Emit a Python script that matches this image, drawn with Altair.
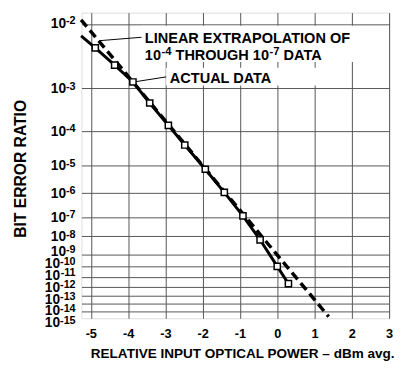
import altair as alt
import pandas as pd

# ---------------- data ----------------
# "actual data" curve (first entry = continuation of the curve to the left plot edge, no marker)
ACTUAL_DBM = [-5.26, -4.88, -4.36, -3.87, -3.42, -2.92, -2.48, -1.93, -1.42, -0.92, -0.46, 0.00, 0.30]
ACTUAL_BER = [6.6e-3, 4.3e-3, 2.3e-3, 1.25e-3, 4.5e-4, 1.35e-4, 3.9e-5, 7.2e-6, 1.05e-6, 1.1e-7,
              6.2e-9, 9.3e-11, 2.0e-12]
ACTUAL_MARKER = [False] + [True] * 12

# linear extrapolation of the 1e-4 .. 1e-7 data (end points at the plot frame)
EXTRAP_DBM = [-5.26, 1.38]
EXTRAP_BER = [1.2e-2, 2.5e-16]

X_TICKS = [-5, -4, -3, -2, -1, 0, 1, 2, 3]
Y_EXPONENTS = list(range(2, 16))          # 10^-2 ... 10^-15
X_TITLE = "RELATIVE INPUT OPTICAL POWER – dBm avg."
Y_TITLE = "BIT ERROR RATIO"

# annotation texts (line 2 pieces: base, superscript, base, superscript, base)
ANN_LINE1 = "LINEAR EXTRAPOLATION OF"
ANN_LINE2 = ["10", "-4", "THROUGH 10", "-7", "DATA"]
ANN_LINE3 = "ACTUAL DATA"

# annotation anchors / boxes / leaders (in data units: dBm, BER)
ANN_ANCHOR_DBM = [-3.55, -3.55, -2.88]
ANN_ANCHOR_BER = [5.13e-3, 2.75e-3, 1.22e-3]
BOX_DBM1 = [-3.64, -2.98]
BOX_DBM2 = [2.05, 1.5]
BOX_BER1 = [9.55e-3, 2.09e-3]
BOX_BER2 = [2.57e-3, 1.10e-3]
LEAD_DBM1 = [-4.77, -3.81]
LEAD_DBM2 = [-3.64, -2.98]
LEAD_BER1 = [5.57e-3, 1.26e-3]
LEAD_BER2 = [6.3e-3, 1.5e-3]

# ---------------- layout / scale geometry ----------------
FONT = "Liberation Sans"
W, H = 314, 312
PAD = {"left": 75, "top": 1, "right": 6, "bottom": 44}

REF_TOP, REF_BOTTOM = 6.0, 321.7
K = H / (REF_BOTTOM - REF_TOP)
GRID_E = [1.8] + list(range(2, 16)) + [15.8]
GRID_PX = [6, 18.3, 84, 128.3, 163.7, 192.3, 217, 236.7, 255.7, 267.7, 279, 289, 298.3, 307, 315, 321.7]
Y_RANGE = [round((p - REF_TOP) * K, 2) for p in GRID_PX]

LABEL_N = [2, 3, 4, 5, 6, 7, 8, 9, 15]
LABEL_PX = [16.7, 84, 128.3, 163.7, 192.3, 217, 237, 252.5, 326]
LABEL_RANGE = [round((p - REF_TOP) * K, 2) for p in LABEL_PX]

AW = {' ': 278, '-': 333, 'A': 722, 'B': 722, 'C': 722, 'D': 722, 'E': 667, 'F': 611, 'G': 778,
      'H': 722, 'I': 278, 'L': 611, 'N': 722, 'O': 778, 'P': 667, 'R': 722, 'T': 611, 'U': 722,
      'X': 667, 'W': 944}
for d in "0123456789":
    AW[d] = 556


def tw(s, size):
    return sum(AW.get(c, 600) for c in s) * size / 1000.0


ANN_SIZE, ANN_SUP = 14.8, 11.5
LAB_SIZE, LAB_SUP = 14, 11

xs = alt.Scale(domain=[-5.25, 3], nice=False, zero=False)
ys = alt.Scale(domain=GRID_E, range=Y_RANGE, nice=False, zero=False)

x_axis = alt.Axis(values=X_TICKS, grid=True, gridColor="#555", gridWidth=1, ticks=False, tickSize=0,
                  domain=False, labelFont=FONT, labelFontWeight="bold", labelFontSize=13,
                  labelColor="black", labelPadding=10, labelFlush=False, labelOverlap=False,
                  labelExpr="datum.value < 0 ? '-' + abs(datum.value) : '' + datum.value",
                  title=X_TITLE, titleFont=FONT, titleFontSize=13.8, titleFontWeight="bold",
                  titleColor="black", titleX=164, titleY=40, titleAlign="center",
                  titleBaseline="alphabetic")
y_axis = alt.Axis(values=Y_EXPONENTS, grid=True, gridColor="#555", gridWidth=1, ticks=False,
                  tickSize=0, domain=False, labels=False,
                  title=Y_TITLE, titleFont=FONT, titleFontSize=16, titleFontWeight="bold",
                  titleColor="black", titleAngle=270, titleX=-57, titleY=159,
                  titleAlign="center", titleBaseline="alphabetic")

X = alt.X("dbm:Q", scale=xs, axis=x_axis)
Y = alt.Y("e:Q", scale=ys, axis=y_axis)
ECALC = "-log(datum.ber)/LN10"

df_actual = pd.DataFrame({"dbm": ACTUAL_DBM, "ber": ACTUAL_BER, "marker": ACTUAL_MARKER})
df_extrap = pd.DataFrame({"dbm": EXTRAP_DBM, "ber": EXTRAP_BER})
df_box = pd.DataFrame({"dbm": BOX_DBM1, "dbm2": BOX_DBM2, "ber": BOX_BER1, "ber2": BOX_BER2})
df_lead = pd.DataFrame({"dbm": LEAD_DBM1, "dbm2": LEAD_DBM2, "ber": LEAD_BER1, "ber2": LEAD_BER2})
df_anchor = pd.DataFrame({"dbm": ANN_ANCHOR_DBM, "ber": ANN_ANCHOR_BER, "k": [0, 1, 2]})

boxes = alt.Chart(df_box).mark_rect(fill="white", stroke=None).transform_calculate(
    e=ECALC, e2="-log(datum.ber2)/LN10").encode(x=X, x2="dbm2:Q", y=Y, y2="e2:Q")

leads = alt.Chart(df_lead).mark_rule(color="black", strokeWidth=1).transform_calculate(
    e=ECALC, e2="-log(datum.ber2)/LN10").encode(x=X, x2="dbm2:Q", y=Y, y2="e2:Q")

extrap = alt.Chart(df_extrap).mark_line(color="black", strokeWidth=3.5, strokeDash=[9, 5]).transform_calculate(
    e=ECALC).encode(x=X, y=Y)

actual = alt.Chart(df_actual).mark_line(color="black", strokeWidth=3).transform_calculate(
    e=ECALC).encode(x=X, y=Y)

squares = alt.Chart(df_actual).mark_point(shape="square", filled=True, fill="white", stroke="black",
                                          strokeWidth=1.5, size=40, opacity=1).transform_filter(
    "datum.marker").transform_calculate(e=ECALC).encode(x=X, y=Y)


def ann_text(k, txt, size, dx, dy=0):
    return alt.Chart(df_anchor).mark_text(
        text=txt, align="left", baseline="alphabetic", font=FONT, fontWeight="bold",
        fontSize=size, color="black", dx=dx, dy=dy).transform_filter(
        f"datum.k == {k}").transform_calculate(e=ECALC).encode(x=X, y=Y)


text_layers = [ann_text(0, ANN_LINE1, ANN_SIZE, 0)]
off = 0.0
for i, piece in enumerate(ANN_LINE2):
    sup = i % 2 == 1
    size = ANN_SUP if sup else ANN_SIZE
    if sup:
        off += 0.5
    text_layers.append(ann_text(1, piece, size, off, -5 if sup else 0))
    off += tw(piece, size)
    if sup:
        off += tw(" ", ANN_SIZE)
text_layers.append(ann_text(2, ANN_LINE3, ANN_SIZE, 0))

main = alt.layer(boxes, leads, extrap, actual, squares, *text_layers)

# ---- y tick labels "10^-n" ----
df_lab = pd.DataFrame({"n": Y_EXPONENTS})
LY = alt.Y("n:Q", scale=alt.Scale(domain=LABEL_N, range=LABEL_RANGE, nice=False, zero=False), axis=None)
RIGHT = -6
exp_lab = alt.Chart(df_lab).mark_text(align="right", baseline="alphabetic", font=FONT, fontWeight="bold",
                                      fontSize=LAB_SUP, color="black", dy=1.5).transform_calculate(
    t="'-' + datum.n").encode(x=alt.value(RIGHT), y=LY, text="t:N")
ten_1 = alt.Chart(df_lab).mark_text(text="10", align="right", baseline="alphabetic", font=FONT,
                                    fontWeight="bold", fontSize=LAB_SIZE, color="black", dy=5).transform_filter(
    "datum.n < 10").encode(x=alt.value(RIGHT - tw("-2", LAB_SUP)), y=LY)
ten_2 = alt.Chart(df_lab).mark_text(text="10", align="right", baseline="alphabetic", font=FONT,
                                    fontWeight="bold", fontSize=LAB_SIZE, color="black", dy=5).transform_filter(
    "datum.n >= 10").encode(x=alt.value(RIGHT - tw("-10", LAB_SUP)), y=LY)
labels = alt.layer(exp_lab, ten_1, ten_2)

chart = alt.layer(main, labels).resolve_scale(y="independent").properties(
    width=W, height=H, autosize=alt.AutoSizeParams(type="none"), padding=PAD
).configure_view(stroke="black", strokeWidth=2).configure(font=FONT)

chart.save("out.html", embed_options={"renderer": "svg", "actions": False})
